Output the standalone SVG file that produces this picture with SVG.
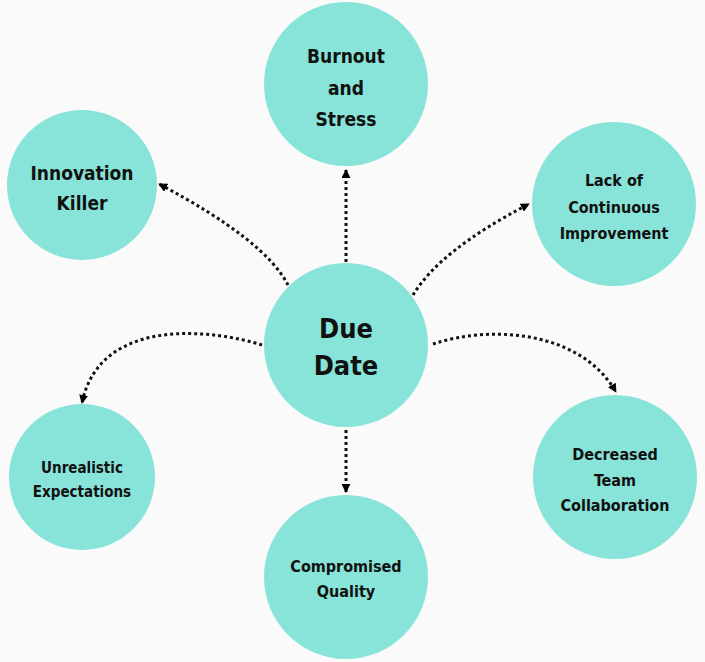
<svg xmlns="http://www.w3.org/2000/svg" width="705" height="662" viewBox="0 0 705 662">
<defs>
<marker id="arr" viewBox="0 0 10 10" refX="9" refY="5" markerWidth="9" markerHeight="9" markerUnits="userSpaceOnUse" orient="auto">
<path d="M0,0 L10,5 L0,10 z" fill="#000"/>
</marker>
<style>
.node{fill:#88e4d8;}
.lbl{font-family:"DejaVu Sans Condensed","DejaVu Sans",sans-serif;font-weight:bold;fill:#111;text-anchor:middle;}
.conn{fill:none;stroke:#111;stroke-width:3;stroke-dasharray:3 3;marker-end:url(#arr);}
</style>
</defs>
<rect width="705" height="662" fill="#fafafa"/>
<g id="connectors">
<path class="conn" d="M346,262 L346,170"/>
<path class="conn" d="M288,285 Q265,240 159,184"/>
<path class="conn" d="M413,295 Q440,250 529,204"/>
<path class="conn" d="M262,345 C215,330 100,315 82,403"/>
<path class="conn" d="M433,344 C490,325 580,330 616,392"/>
<path class="conn" d="M346,430 L346,492"/>
</g>
<g id="burnout">
<circle class="node" cx="346" cy="84" r="82"/>
<text class="lbl" font-size="19"><tspan x="346" y="63">Burnout</tspan><tspan x="346" y="95">and</tspan><tspan x="346" y="126">Stress</tspan></text>
</g>
<g id="innovation">
<circle class="node" cx="82" cy="185" r="75"/>
<text class="lbl" font-size="19"><tspan x="82" y="180">Innovation</tspan><tspan x="82" y="210">Killer</tspan></text>
</g>
<g id="lack">
<circle class="node" cx="614" cy="204" r="82"/>
<text class="lbl" font-size="16"><tspan x="614" y="186">Lack of</tspan><tspan x="614" y="213">Continuous</tspan><tspan x="614" y="239">Improvement</tspan></text>
</g>
<g id="duedate">
<circle class="node" cx="346" cy="345" r="82"/>
<text class="lbl" font-size="27"><tspan x="346" y="338">Due</tspan><tspan x="346" y="375">Date</tspan></text>
</g>
<g id="unrealistic">
<circle class="node" cx="82" cy="477" r="73"/>
<text class="lbl" font-size="15"><tspan x="82" y="473">Unrealistic</tspan><tspan x="82" y="497">Expectations</tspan></text>
</g>
<g id="decreased">
<circle class="node" cx="615" cy="477" r="82"/>
<text class="lbl" font-size="16"><tspan x="615" y="460">Decreased</tspan><tspan x="615" y="486">Team</tspan><tspan x="615" y="511">Collaboration</tspan></text>
</g>
<g id="compromised">
<circle class="node" cx="346" cy="577" r="82"/>
<text class="lbl" font-size="16"><tspan x="346" y="572">Compromised</tspan><tspan x="346" y="597">Quality</tspan></text>
</g>
</svg>
